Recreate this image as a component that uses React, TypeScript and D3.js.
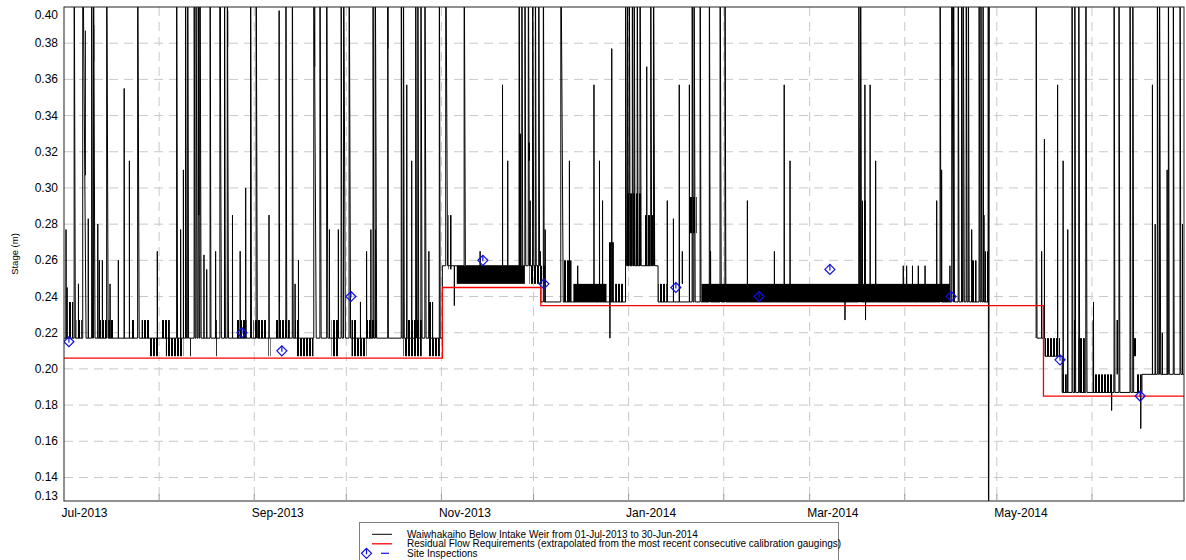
import React from "react";
import * as d3 from "d3";

// all times are days after 01-Jul-2013 00:00
const T = 0.45; // reading above the top of the axis

// resting level of the stage record (step changes)
const baseDay = [0, 123.3, 155.4, 183.0, 193.6, 316.8, 319.7, 325.3, 351.3];
const baseLevel = [0.217, 0.257, 0.237, 0.257, 0.237, 0.217, 0.207, 0.187, 0.197];

// freshes and one-off readings: [day, peak stage, days to fall back]
const spikesJulAug: [number, number, number][] = [
  [0.65, 0.277, 0.05], [1.0, 0.245, 0.05], [3.3, T, 0.4], [4.7, 0.247, 0.05],
  [6.1, T, 1.1], [7.9, 0.283, 0.05], [9.0, T, 0.3], [9.6, T, 0.5],
  [11.0, 0.28, 0.05], [11.5, 0.26, 0.05], [12.5, 0.26, 0.05], [13.9, T, 0.5],
  [15.0, 0.247, 0.05], [17.7, 0.26, 0.05], [19.6, 0.355, 0.05], [21.3, 0.315, 0.05],
  [24.0, T, 0.5], [30.4, 0.265, 0.05], [36.7, T, 0.3], [38.0, 0.277, 0.05],
  [38.9, 0.31, 0.05], [39.6, T, 0.3], [40.3, T, 0.3], [42.4, T, 0.3],
  [43.0, T, 0.4], [43.7, T, 0.4], [44.3, T, 0.4], [45.6, 0.263, 0.05],
  [46.5, 0.255, 0.05], [47.6, T, 0.3], [49.4, 0.265, 0.05], [50.8, T, 0.5],
  [52.3, T, 0.3], [53.2, T, 0.4], [54.9, 0.285, 0.05], [57.4, 0.265, 0.05],
  [59.2, 0.3, 0.05], [60.8, T, 0.3], [62.6, T, 0.4], [66.8, 0.285, 0.05],
  [70.1, 0.398, 0.1], [72.3, T, 0.3],
];

const spikesSepOct: [number, number, number][] = [
  [74.4, T, 0.3], [75.3, 0.247, 0.05], [76.4, 0.26, 0.05], [81.4, T, 0.8],
  [83.4, T, 0.4], [85.6, T, 0.4], [86.5, 0.277, 0.05], [89.4, 0.277, 0.05],
  [90.3, T, 0.3], [91.1, T, 0.6], [92.9, T, 0.5], [96.6, 0.237, 0.05],
  [98.6, 0.265, 0.05], [100.0, 0.277, 0.05], [100.7, T, 0.3], [101.4, T, 0.5],
  [105.5, T, 0.2], [109.9, T, 0.3], [110.6, T, 0.3], [111.7, 0.357, 0.05],
  [113.3, 0.315, 0.05], [114.6, T, 0.3], [115.3, T, 0.3], [116.3, T, 0.4],
  [117.6, T, 0.4], [118.9, 0.265, 0.05], [122.3, T, 0.3],
];

const spikesNovDec: [number, number, number][] = [
  [124.4, T, 0.6], [127.2, 0.235, 0.05], [130.4, T, 0.4], [135.6, 0.265, 0.05],
  [142.9, 0.357, 0.05], [144.6, 0.315, 0.05], [148.3, T, 0.3], [149.2, T, 0.3],
  [150.2, T, 0.3], [151.3, T, 0.4], [151.9, 0.293, 0.05], [152.7, T, 0.4],
  [153.6, T, 0.3], [154.7, T, 0.3], [155.2, 0.265, 0.05], [156.2, T, 0.3],
  [156.8, 0.277, 0.05], [161.9, T, 0.8], [164.7, 0.315, 0.05], [167.4, 0.257, 0.05],
  [172.7, 0.357, 0.05], [174.5, 0.315, 0.05], [175.5, 0.293, 0.05], [177.9, 0.217, 0.05],
  [178.5, 0.377, 0.05],
];

const spikesJanFeb: [number, number, number][] = [
  [183.0, T, 0.3], [183.6, T, 0.3], [184.2, T, 0.3], [185.2, T, 0.3],
  [185.8, T, 0.3], [186.8, T, 0.3], [187.7, T, 0.4], [189.9, 0.367, 0.05],
  [191.2, T, 0.3], [192.1, T, 0.4], [196.6, 0.293, 0.05], [198.6, 0.283, 0.05],
  [200.5, 0.357, 0.05], [203.8, 0.357, 0.05], [204.7, T, 0.3], [205.3, T, 0.4],
  [207.3, T, 0.3], [210.3, T, 0.3], [210.7, 0.265, 0.05], [213.8, T, 0.4],
  [215.4, T, 0.3], [222.7, 0.293, 0.05], [231.5, 0.265, 0.05], [234.7, 0.357, 0.05],
  [236.6, 0.315, 0.05], [254.5, 0.227, 0.05], [259.0, T, 0.3], [259.6, T, 0.3],
  [261.0, 0.357, 0.05], [261.2, 0.227, 0.05], [262.7, 0.357, 0.05], [264.5, 0.315, 0.05],
];

const spikesMarApr: [number, number, number][] = [
  [273.5, 0.257, 0.05], [274.6, 0.257, 0.05], [276.5, 0.257, 0.05], [278.4, 0.257, 0.05],
  [280.6, 0.257, 0.05], [284.4, 0.293, 0.05], [285.5, T, 0.3], [286.0, 0.31, 0.05],
  [288.7, 0.257, 0.05], [289.3, T, 0.5], [289.9, T, 0.3], [291.4, T, 0.3],
  [292.5, T, 0.3], [293.0, T, 0.4], [294.0, T, 0.3], [294.7, T, 0.3],
  [295.8, 0.277, 0.05], [298.2, T, 0.3], [298.8, T, 0.3], [299.5, T, 0.2],
  [299.8, 0.285, 0.05],
];

const spikesMayJun: [number, number, number][] = [
  [316.8, T, 0.3], [318.6, 0.265, 0.05], [319.5, 0.327, 0.05], [323.8, 0.357, 0.05],
  [325.6, 0.315, 0.05], [327.1, 0.277, 0.05], [328.5, T, 0.3], [329.4, T, 0.3],
  [330.7, T, 0.3], [333.0, T, 0.4], [335.5, 0.237, 0.05], [341.4, 0.177, 0.05],
  [342.2, T, 0.3], [343.8, T, 0.3], [347.4, T, 0.3], [348.3, T, 0.3],
  [350.9, 0.167, 0.05], [354.7, 0.357, 0.05], [355.6, 0.28, 0.05], [356.3, T, 0.3],
  [357.0, T, 0.4], [359.5, 0.31, 0.05], [359.9, T, 0.3], [361.5, T, 0.3],
  [363.7, T, 0.3], [364.5, 0.28, 0.05],
];

// spells where the reading flickers between two levels: [from, to, low, high]
const flicker: [number, number, number, number][] = [
  [1.4, 3.0, 0.217, 0.237], [4.1, 5.8, 0.217, 0.227], [6.8, 7.1, 0.307, 0.387],
  [10.0, 10.3, 0.37, 0.39], [11.7, 13.9, 0.217, 0.227], [14.4, 16.1, 0.217, 0.227],
  [22.0, 23.1, 0.217, 0.227], [25.3, 27.8, 0.217, 0.227], [28.0, 30.7, 0.207, 0.217],
  [31.8, 34.5, 0.217, 0.227], [33.2, 38.9, 0.207, 0.217], [41.1, 41.6, 0.207, 0.217],
  [43.6, 44.2, 0.285, 0.4], [49.2, 49.8, 0.207, 0.227], [50.8, 51.1, 0.357, 0.4],
  [53.2, 53.5, 0.378, 0.398], [54.8, 55.1, 0.265, 0.285], [56.3, 59.5, 0.217, 0.227],
  [61.7, 66.0, 0.217, 0.227], [66.6, 67.3, 0.207, 0.217], [68.8, 73.6, 0.217, 0.227],
  [70.0, 70.4, 0.237, 0.28],
  [75.3, 76.9, 0.217, 0.227], [75.8, 81.3, 0.207, 0.217], [81.4, 81.9, 0.367, 0.4],
  [87.2, 89.4, 0.207, 0.227], [93.7, 98.6, 0.207, 0.217], [93.7, 95.3, 0.217, 0.227],
  [98.6, 101.9, 0.217, 0.227], [101.3, 101.6, 0.22, 0.277], [105.4, 105.7, 0.377, 0.4],
  [110.6, 116.6, 0.207, 0.217], [111.5, 116.6, 0.217, 0.227], [118.7, 122.5, 0.207, 0.217],
  [118.7, 120.3, 0.217, 0.237],
  [125.3, 126.3, 0.255, 0.285], [128.0, 150.2, 0.247, 0.257], [148.3, 149.2, 0.257, 0.33],
  [151.3, 151.9, 0.315, 0.325], [151.7, 156.8, 0.247, 0.257], [162.7, 165.4, 0.237, 0.26],
  [166.0, 176.8, 0.237, 0.247], [177.4, 179.2, 0.237, 0.27], [179.6, 182.3, 0.237, 0.247],
  [183.2, 188.3, 0.257, 0.297], [189.0, 192.6, 0.257, 0.285], [193.7, 196.4, 0.237, 0.247],
  [201.3, 201.8, 0.247, 0.265], [204.0, 206.2, 0.275, 0.295], [207.8, 288.7, 0.237, 0.247],
  [260.0, 261.3, 0.237, 0.293], [289.3, 289.6, 0.367, 0.4], [295.8, 297.4, 0.237, 0.26],
  [300.1, 301.2, 0.237, 0.265],
  [319.7, 324.6, 0.207, 0.217], [325.5, 326.8, 0.187, 0.197], [328.9, 329.5, 0.187, 0.227],
  [330.6, 332.7, 0.187, 0.217], [335.2, 342.0, 0.187, 0.197], [335.2, 336.0, 0.197, 0.227],
  [343.0, 343.6, 0.197, 0.227], [348.5, 349.5, 0.207, 0.217], [349.5, 351.2, 0.187, 0.197],
  [357.7, 358.5, 0.197, 0.22],
];

// logger dropped out (reading fell to zero and bounced), record missing until it came back
const gapFrom = 301.5;
const gapTo = 316.8;
const gapLevel = 0.0;

// residual flow requirement (stage)
const rfrDay = [0, 123.3, 155.4, 319.2, 365];
const rfrLevel = [0.206, 0.245, 0.235, 0.185, 0.185];

// site inspections
const inspDay = [1.6, 58.0, 71.0, 93.5, 136.5, 156.4, 199.4, 226.5, 249.6, 289.1, 324.6, 350.7];
const inspStage = [0.215, 0.22, 0.21, 0.24, 0.26, 0.247, 0.245, 0.24, 0.255, 0.24, 0.205, 0.185];

const yTicks = [0.13, 0.14, 0.16, 0.18, 0.2, 0.22, 0.24, 0.26, 0.28, 0.3, 0.32, 0.34, 0.36, 0.38, 0.4];

const legendLabels = [
  "Waiwhakaiho Below Intake Weir from 01-Jul-2013 to 30-Jun-2014",
  "Residual Flow Requirements (extrapolated from the most recent consecutive calibration gaugings)",
  "Site Inspections",
];

const W = 1186;
const H = 560;
const left = 64, right = 1184, top = 7, bottom = 501;
const font = "Arial, 'Liberation Sans', sans-serif";

const t0 = Date.UTC(2013, 6, 1);
const dayDate = (d: number) => new Date(t0 + d * 86400000);

const x = d3.scaleUtc().domain([dayDate(0), dayDate(365)]).range([left, right]);
const y = d3.scaleLinear().domain([0.127, 0.4]).range([bottom, top]);

const baseAt = (d: number) => {
  let l = baseLevel[0];
  baseDay.forEach((b, i) => { if (d >= b) l = baseLevel[i]; });
  return l;
};

type P = [number, number];

function stagePoints(): P[] {
  const spikes = [...spikesJulAug, ...spikesSepOct, ...spikesNovDec, ...spikesJanFeb, ...spikesMarApr, ...spikesMayJun];
  const events: { d: number; k: string; i?: number; s?: [number, number, number] }[] = [
    ...baseDay.slice(1).map((d, i) => ({ d, k: "base", i: i + 1 })),
    { d: gapFrom, k: "gap" },
    ...spikes.map((s) => ({ d: s[0], k: "spike", s })),
  ];
  events.sort((a, b) => a.d - b.d);
  const pts: P[] = [[0, baseLevel[0]]];
  for (const e of events) {
    if (e.k === "base") {
      if (e.d !== gapTo) pts.push([e.d, baseLevel[e.i! - 1]]);
      pts.push([e.d, baseLevel[e.i!]]);
    } else if (e.k === "gap") {
      const b = baseAt(e.d - 0.01);
      pts.push([e.d - 0.3, b], [e.d - 0.29, T], [e.d - 0.2, gapLevel], [e.d + 0.1, T], [e.d + 0.11, NaN]);
    } else {
      const [d, peak, fall] = e.s!;
      const b = baseAt(d);
      pts.push([d, b], [d + 0.01, peak], [d + fall, b]);
    }
  }
  pts.push([365, baseAt(365)]);
  return pts;
}

const stageLine = d3
  .line<P>()
  .defined((p) => !isNaN(p[1]))
  .x((p) => x(dayDate(p[0])))
  .y((p) => y(p[1]));

const rfrLine = d3
  .line<number>()
  .curve(d3.curveStepAfter)
  .x((d, i) => x(dayDate(rfrDay[i])))
  .y((d) => y(d));

const diamond = "M0,-5L5,0L0,5L-5,0Z";

function App() {
  const months = x.ticks(d3.utcMonth.every(1)!).filter((m) => m < dayDate(365));
  const labelled = months.filter((m) => m.getUTCMonth() % 2 === 0);
  const gridY = yTicks.filter((v) => v >= 0.14 && v < 0.4);

  return (
    <svg width={W} height={H} style={{ position: "absolute", left: 0, top: 0, background: "#fff" }}>
      <defs>
        <clipPath id="plotClip">
          <rect x={left} y={top} width={right - left} height={bottom - top} />
        </clipPath>
        <pattern id="flick" width={3} height={10} patternUnits="userSpaceOnUse">
          <rect width={2} height={10} fill="#000" />
        </pattern>
      </defs>

      {/* grid */}
      <g stroke="#c8c8c8" strokeWidth={1} strokeDasharray="9,6">
        {gridY.map((v) => (
          <line key={v} x1={left} x2={right} y1={y(v)} y2={y(v)} />
        ))}
        {months.filter((m) => +m > +dayDate(0)).map((m) => (
          <line key={+m} x1={x(m)} x2={x(m)} y1={top} y2={bottom} />
        ))}
      </g>

      <g clipPath="url(#plotClip)">
        {flicker.map((f, i) => (
          <rect
            key={i}
            x={x(dayDate(f[0]))}
            width={Math.max(1, x(dayDate(f[1])) - x(dayDate(f[0])))}
            y={y(f[3])}
            height={y(f[2]) - y(f[3])}
            fill={f[1] - f[0] > 8 ? "#000" : "url(#flick)"}
          />
        ))}
        <path d={stageLine(stagePoints()) || ""} fill="none" stroke="#000" strokeWidth={1} />
        <path d={rfrLine(rfrLevel) || ""} fill="none" stroke="#ff0000" strokeWidth={1.3} />
        {inspDay.map((d, i) => (
          <g key={i} transform={`translate(${x(dayDate(d))},${y(inspStage[i])})`} stroke="#1010e0" fill="none" strokeWidth={1.2}>
            <path d={diamond} />
            <line x1={0} x2={0} y1={-5} y2={1} />
          </g>
        ))}
      </g>

      {/* frame */}
      <rect x={left} y={top} width={right - left} height={bottom - top} fill="none" stroke="#222" strokeWidth={1} />

      {/* x axis */}
      <g stroke="#999" strokeWidth={1}>
        {months.filter((m) => +m > +dayDate(0)).map((m) => (
          <line key={+m} x1={x(m)} x2={x(m)} y1={bottom} y2={bottom - 7} />
        ))}
      </g>
      <g fontFamily={font} fontSize={12} fill="#000">
        {labelled.map((m) => (
          <text key={+m} x={x(m) - 2.5} y={517}>
            {d3.utcFormat("%b-%Y")(m)}
          </text>
        ))}
        {yTicks.map((v) => (
          <text key={v} x={58} y={v === 0.4 ? 15 : y(v)} textAnchor="end" dominantBaseline="central">
            {v.toFixed(2)}
          </text>
        ))}
      </g>
      <text
        transform={`translate(14,${(top + bottom) / 2}) rotate(-90)`}
        textAnchor="middle"
        dominantBaseline="central"
        fontFamily={font}
        fontSize={9.5}
      >
        Stage (m)
      </text>

      {/* legend */}
      <g fontFamily={font} fontSize={10}>
        <rect x={359.5} y={522.5} width={479} height={50} fill="#fff" stroke="#808080" strokeWidth={1} />
        {legendLabels.map((label, i) => {
          const ly = 534.3 + i * 9.5;
          return (
            <g key={label}>
              {i === 0 && <line x1={372} x2={392} y1={ly} y2={ly} stroke="#000" strokeWidth={1} />}
              {i === 1 && <line x1={372} x2={392} y1={ly} y2={ly} stroke="#ff0000" strokeWidth={1.3} />}
              {i === 2 && (
                <g stroke="#1010e0" fill="none" strokeWidth={1.2}>
                  <path d={diamond} transform={`translate(366.5,${ly})`} />
                  <line x1={366.5} x2={366.5} y1={ly - 5} y2={ly + 1} />
                  <line x1={381} x2={389} y1={ly} y2={ly} />
                </g>
              )}
              <text x={407} y={ly} dominantBaseline="central">
                {label}
              </text>
            </g>
          );
        })}
      </g>
    </svg>
  );
}

export default App;
